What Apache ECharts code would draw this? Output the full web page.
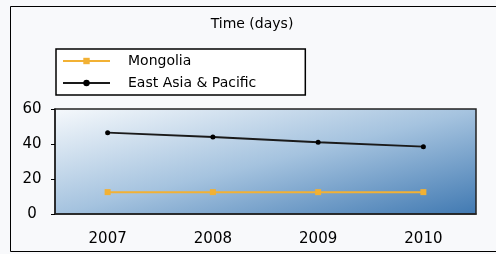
<!DOCTYPE html>
<html>
<head>
<meta charset="utf-8">
<script src="https://cdn.jsdelivr.net/npm/echarts@6/dist/echarts.min.js"></script>
<style>
  html, body { margin: 0; padding: 0; background: #f8f9fb; }
  #chart { width: 496px; height: 254px; }
</style>
</head>
<body>
<div id="chart"></div>
<script>
// data
var years = ["2007", "2008", "2009", "2010"];
var mongolia = [12.5, 12.5, 12.5, 12.5];
var eastAsia = [46.5, 44, 41, 38.5];
var yTicks = { min: 0, max: 60, interval: 20 };

var font = "DejaVu Sans";
var chart = echarts.init(document.getElementById("chart"));

var option = {
  backgroundColor: "#f8f9fb",
  animation: false,
  textStyle: { fontFamily: font },
  title: {
    text: "Time (days)",
    left: 247,
    textAlign: "center",
    top: 12,
    textStyle: { fontFamily: font, fontSize: 14, fontWeight: "normal", color: "#000" }
  },
  graphic: [
    {
      type: "rect",
      shape: { x: 10.5, y: 6.5, width: 500, height: 245 },
      style: { fill: "none", stroke: "#000", lineWidth: 1 },
      z: -1
    }
  ],
  legend: {
    orient: "vertical",
    left: 56,
    top: 49,
    padding: [5, 49, 5, 6],
    itemGap: 8,
    itemWidth: 47,
    itemHeight: 8,
    borderColor: "#000",
    borderWidth: 1.5,
    backgroundColor: "#fff",
    textStyle: { fontFamily: font, fontSize: 14, color: "#000", padding: [0, 0, 0, 13] },
    data: ["Mongolia", "East Asia & Pacific"]
  },
  grid: {
    left: 55,
    right: 20,
    top: 109,
    bottom: 40,
    show: true,
    borderColor: "#222",
    borderWidth: 1.5,
    backgroundColor: {
      type: "linear", x: 0, y: 0, x2: 0.25, y2: 4,
      colorStops: [
        { offset: 0, color: "#f6f9fc" },
        { offset: 0.235, color: "#a5c3df" },
        { offset: 0.47, color: "#3f78b1" },
        { offset: 1, color: "#3f78b1" }
      ]
    }
  },
  xAxis: {
    type: "category",
    data: years,
    boundaryGap: true,
    axisLine: { lineStyle: { color: "#222", width: 1.5 } },
    axisTick: { alignWithLabel: true, length: 6, lineStyle: { color: "#000" } },
    axisLabel: { color: "#000", fontSize: 15, fontFamily: font, margin: 18 }
  },
  yAxis: {
    type: "value",
    min: yTicks.min,
    max: yTicks.max,
    interval: yTicks.interval,
    splitLine: { show: false },
    axisLine: { show: true, lineStyle: { color: "#222", width: 1.5 } },
    axisTick: { show: true, length: 4, lineStyle: { color: "#000" } },
    axisLabel: { color: "#000", fontSize: 15, fontFamily: font, margin: 23, align: "center" }
  },
  series: [
    {
      name: "Mongolia",
      type: "line",
      data: mongolia,
      color: "#f2b134",
      symbol: "rect",
      symbolSize: 6,
      lineStyle: { width: 2, color: "#f2b134" },
      itemStyle: { color: "#f2b134" }
    },
    {
      name: "East Asia & Pacific",
      type: "line",
      data: eastAsia,
      color: "#000",
      symbol: "circle",
      symbolSize: 5,
      lineStyle: { width: 2, color: "#1a1a1a" },
      itemStyle: { color: "#000" }
    }
  ]
};

chart.setOption(option);
</script>
</body>
</html>
